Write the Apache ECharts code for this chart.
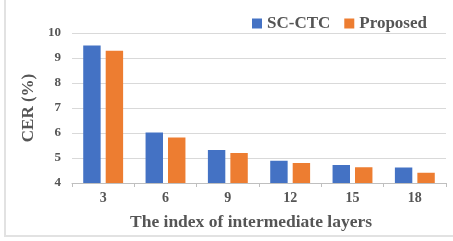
<!DOCTYPE html>
<html>
<head>
<meta charset="utf-8">
<script src="https://cdn.jsdelivr.net/npm/echarts@6/dist/echarts.min.js"></script>
<style>
  html, body { margin: 0; padding: 0; background: #fff; }
  #wrap { position: relative; width: 453px; height: 241px; overflow: hidden; }
  #frame { position: absolute; left: 4px; top: -4px; width: 470px; height: 241px;
           border-left: 2px solid #e2e2e2; border-bottom: 2px solid #e2e2e2; box-sizing: border-box; }
  #main { position: absolute; left: 0; top: 0; width: 453px; height: 241px; }
</style>
</head>
<body>
<div id="wrap">
  <div id="frame"></div>
  <div id="main"></div>
</div>
<script>
// layer index on x axis
const layers = ["3", "6", "9", "12", "15", "18"];
// CER (%) per layer
const scCtc = [9.5, 6.02, 5.32, 4.89, 4.72, 4.62];
const proposed = [9.29, 5.82, 5.2, 4.8, 4.63, 4.41];

const textColor = "#555555";
const serif = "'Liberation Serif', 'Times New Roman', serif";

const chart = echarts.init(document.getElementById("main"), null, { renderer: "canvas" });

chart.setOption({
  animation: false,
  textStyle: { fontFamily: serif },
  legend: {
    left: 247,
    top: 10,
    itemWidth: 10,
    itemHeight: 10,
    itemGap: 14,
    icon: "rect",
    textStyle: { color: textColor, fontSize: 17, fontWeight: "bold", fontFamily: serif }
  },
  grid: {
    left: 72,
    right: 7,
    top: 33,
    bottom: 58
  },
  xAxis: {
    type: "category",
    data: layers,
    name: "The index of intermediate layers",
    nameLocation: "middle",
    nameGap: 30,
    nameTextStyle: {
      color: textColor, fontSize: 17.5, fontWeight: "bold", fontFamily: serif,
      padding: [0, 16, 0, 0]
    },
    axisLine: { lineStyle: { color: "#bfbfbf", width: 1 } },
    axisTick: { show: true, length: 4, lineStyle: { color: "#bfbfbf" } },
    axisLabel: { color: textColor, fontSize: 14, fontWeight: "bold", fontFamily: serif, margin: 8 }
  },
  yAxis: {
    type: "value",
    min: 4,
    max: 10,
    interval: 1,
    name: "CER (%)",
    nameLocation: "middle",
    nameGap: 27,
    nameRotate: 90,
    nameTextStyle: { color: textColor, fontSize: 17, fontWeight: "bold", fontFamily: serif },
    axisLine: { show: false },
    axisTick: { show: false },
    splitLine: { lineStyle: { color: "#d9d9d9", width: 1 } },
    axisLabel: { color: textColor, fontSize: 13, fontWeight: "bold", fontFamily: serif, margin: 11 }
  },
  series: [
    {
      name: "SC-CTC",
      type: "bar",
      data: scCtc,
      itemStyle: { color: "#4472c4" },
      barGap: "29%",
      barCategoryGap: "36%"
    },
    {
      name: "Proposed",
      type: "bar",
      data: proposed,
      itemStyle: { color: "#ed7d31" }
    }
  ]
});
</script>
</body>
</html>
